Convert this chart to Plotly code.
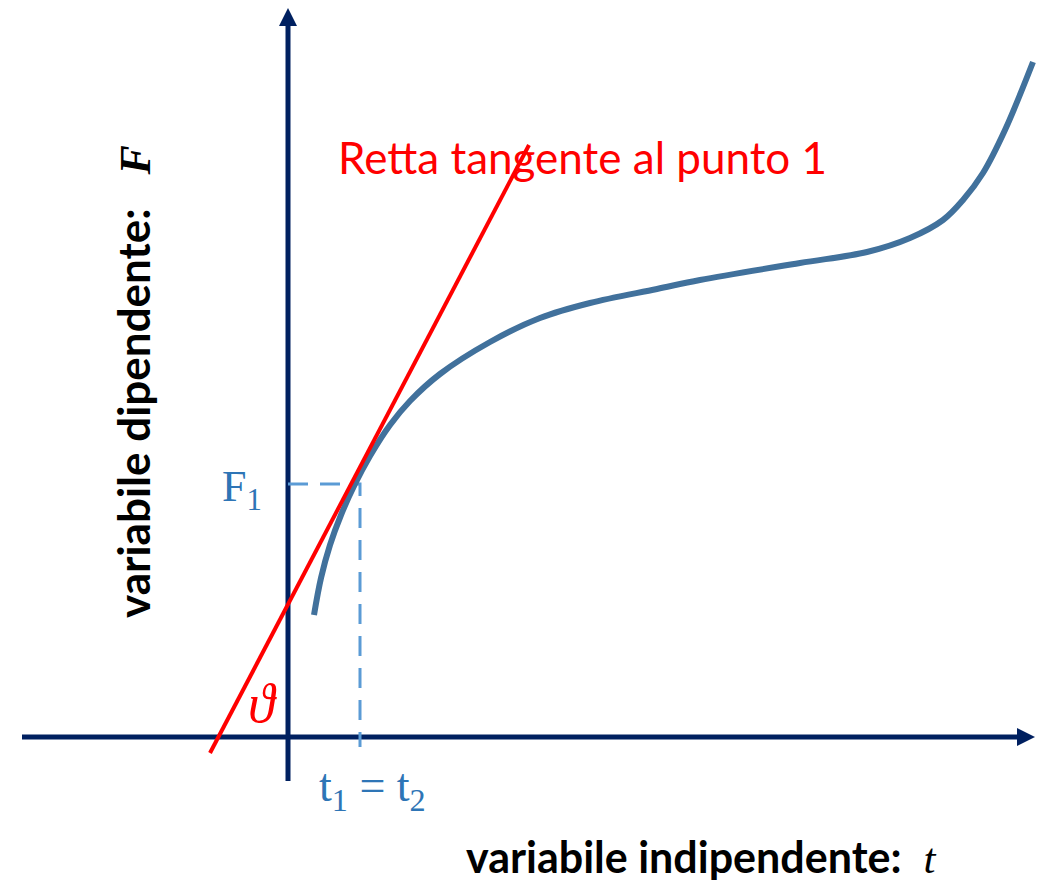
"""Tangent line to a curve at point 1 (F vs t diagram)"""

import plotly.graph_objects as go

# curve F(t) (1 unit = 100 px, origin at axes crossing)
curve_t = [0.26, 0.33, 0.42, 0.53, 0.67, 0.82, 1.02, 1.22, 1.52, 2.02, 2.52,
           3.02, 3.69, 4.12, 5.12, 5.79, 6.22, 6.55, 6.75, 6.95, 7.17, 7.45]
curve_F = [1.22, 1.59, 1.92, 2.22, 2.53, 2.81, 3.12, 3.36, 3.63, 3.95, 4.19,
           4.34, 4.48, 4.57, 4.74, 4.85, 4.99, 5.17, 5.37, 5.64, 6.07, 6.75]

# tangent line endpoints
tangent_t = [-0.78, 2.41]
tangent_F = [-0.16, 5.92]

# point 1
t1 = 0.72
F1 = 2.53

# axes extent
x_axis_t = [-2.66, 7.29]
y_axis_F = [-0.44, 7.11]

AXIS_COLOR = '#002060'
CURVE_COLOR = '#41719C'
DASH_COLOR = '#5B9BD5'
LABEL_BLUE = '#2E75B6'
RED = '#FF0000'

fig = go.Figure()

# axes
fig.add_trace(go.Scatter(x=x_axis_t, y=[0, 0], mode='lines',
                         line=dict(color=AXIS_COLOR, width=5), hoverinfo='skip'))
fig.add_trace(go.Scatter(x=[0, 0], y=y_axis_F, mode='lines',
                         line=dict(color=AXIS_COLOR, width=5), hoverinfo='skip'))

# arrow heads as filled paths
xe = x_axis_t[1]
ye = y_axis_F[1]
fig.add_shape(type='path', xref='x', yref='y',
              path=f'M {xe},0.09 L {xe + 0.18},0 L {xe},-0.09 Z',
              fillcolor=AXIS_COLOR, line=dict(width=0))
fig.add_shape(type='path', xref='x', yref='y',
              path=f'M -0.09,{ye} L 0,{ye + 0.18} L 0.09,{ye} Z',
              fillcolor=AXIS_COLOR, line=dict(width=0))

# dashed guides
fig.add_trace(go.Scatter(x=[0, t1, t1], y=[F1, F1, -0.10], mode='lines',
                         line=dict(color=DASH_COLOR, width=3, dash='20px,12px'),
                         hoverinfo='skip'))

# curve
fig.add_trace(go.Scatter(x=curve_t, y=curve_F, mode='lines',
                         line=dict(color=CURVE_COLOR, width=6, shape='spline',
                                   smoothing=1.0),
                         hoverinfo='skip'))

# tangent
fig.add_trace(go.Scatter(x=tangent_t, y=tangent_F, mode='lines',
                         line=dict(color=RED, width=4), hoverinfo='skip'))

serif = 'Liberation Serif, Times New Roman, serif'
sans = 'Lato, Open Sans, sans-serif'

fig.add_annotation(x=2.94, y=5.80, text='Retta tangente al punto 1', showarrow=False,
                   font=dict(family=sans, size=44, color=RED))
fig.add_annotation(x=-0.46, y=2.48, text='F<sub>1</sub>', showarrow=False,
                   font=dict(family=serif, size=44, color=LABEL_BLUE))
fig.add_annotation(x=0.84, y=-0.52, text='t<sub>1</sub> = t<sub>2</sub>', showarrow=False,
                   font=dict(family=serif, size=46, color=LABEL_BLUE))
fig.add_annotation(x=-0.26, y=0.33, text='<i>ϑ</i>', showarrow=False,
                   font=dict(family=serif, size=54, color=RED))
fig.add_annotation(x=4.13, y=-1.19, showarrow=False,
                   text='<b>variabile indipendente:</b>  '
                        f'<span style="font-family:{serif}"><i>t</i></span>',
                   font=dict(family=sans, size=43, color='black'))
fig.add_annotation(x=-1.55, y=3.55, showarrow=False, textangle=-90,
                   text='<b>variabile dipendente:</b>   '
                        f'<span style="font-family:{serif}"><b><i>F</i></b></span>',
                   font=dict(family=sans, size=44, color='black'))

# page body has an 8px margin, so the figure is 8px smaller than the window
fig.update_layout(
    width=1040, height=872,
    margin=dict(l=0, r=0, t=0, b=0),
    showlegend=False,
    plot_bgcolor='white', paper_bgcolor='white',
    xaxis=dict(range=[-2.80, 7.60], visible=False, fixedrange=True),
    yaxis=dict(range=[-1.43, 7.29], visible=False, fixedrange=True),
)

fig.write_html("out.html")
